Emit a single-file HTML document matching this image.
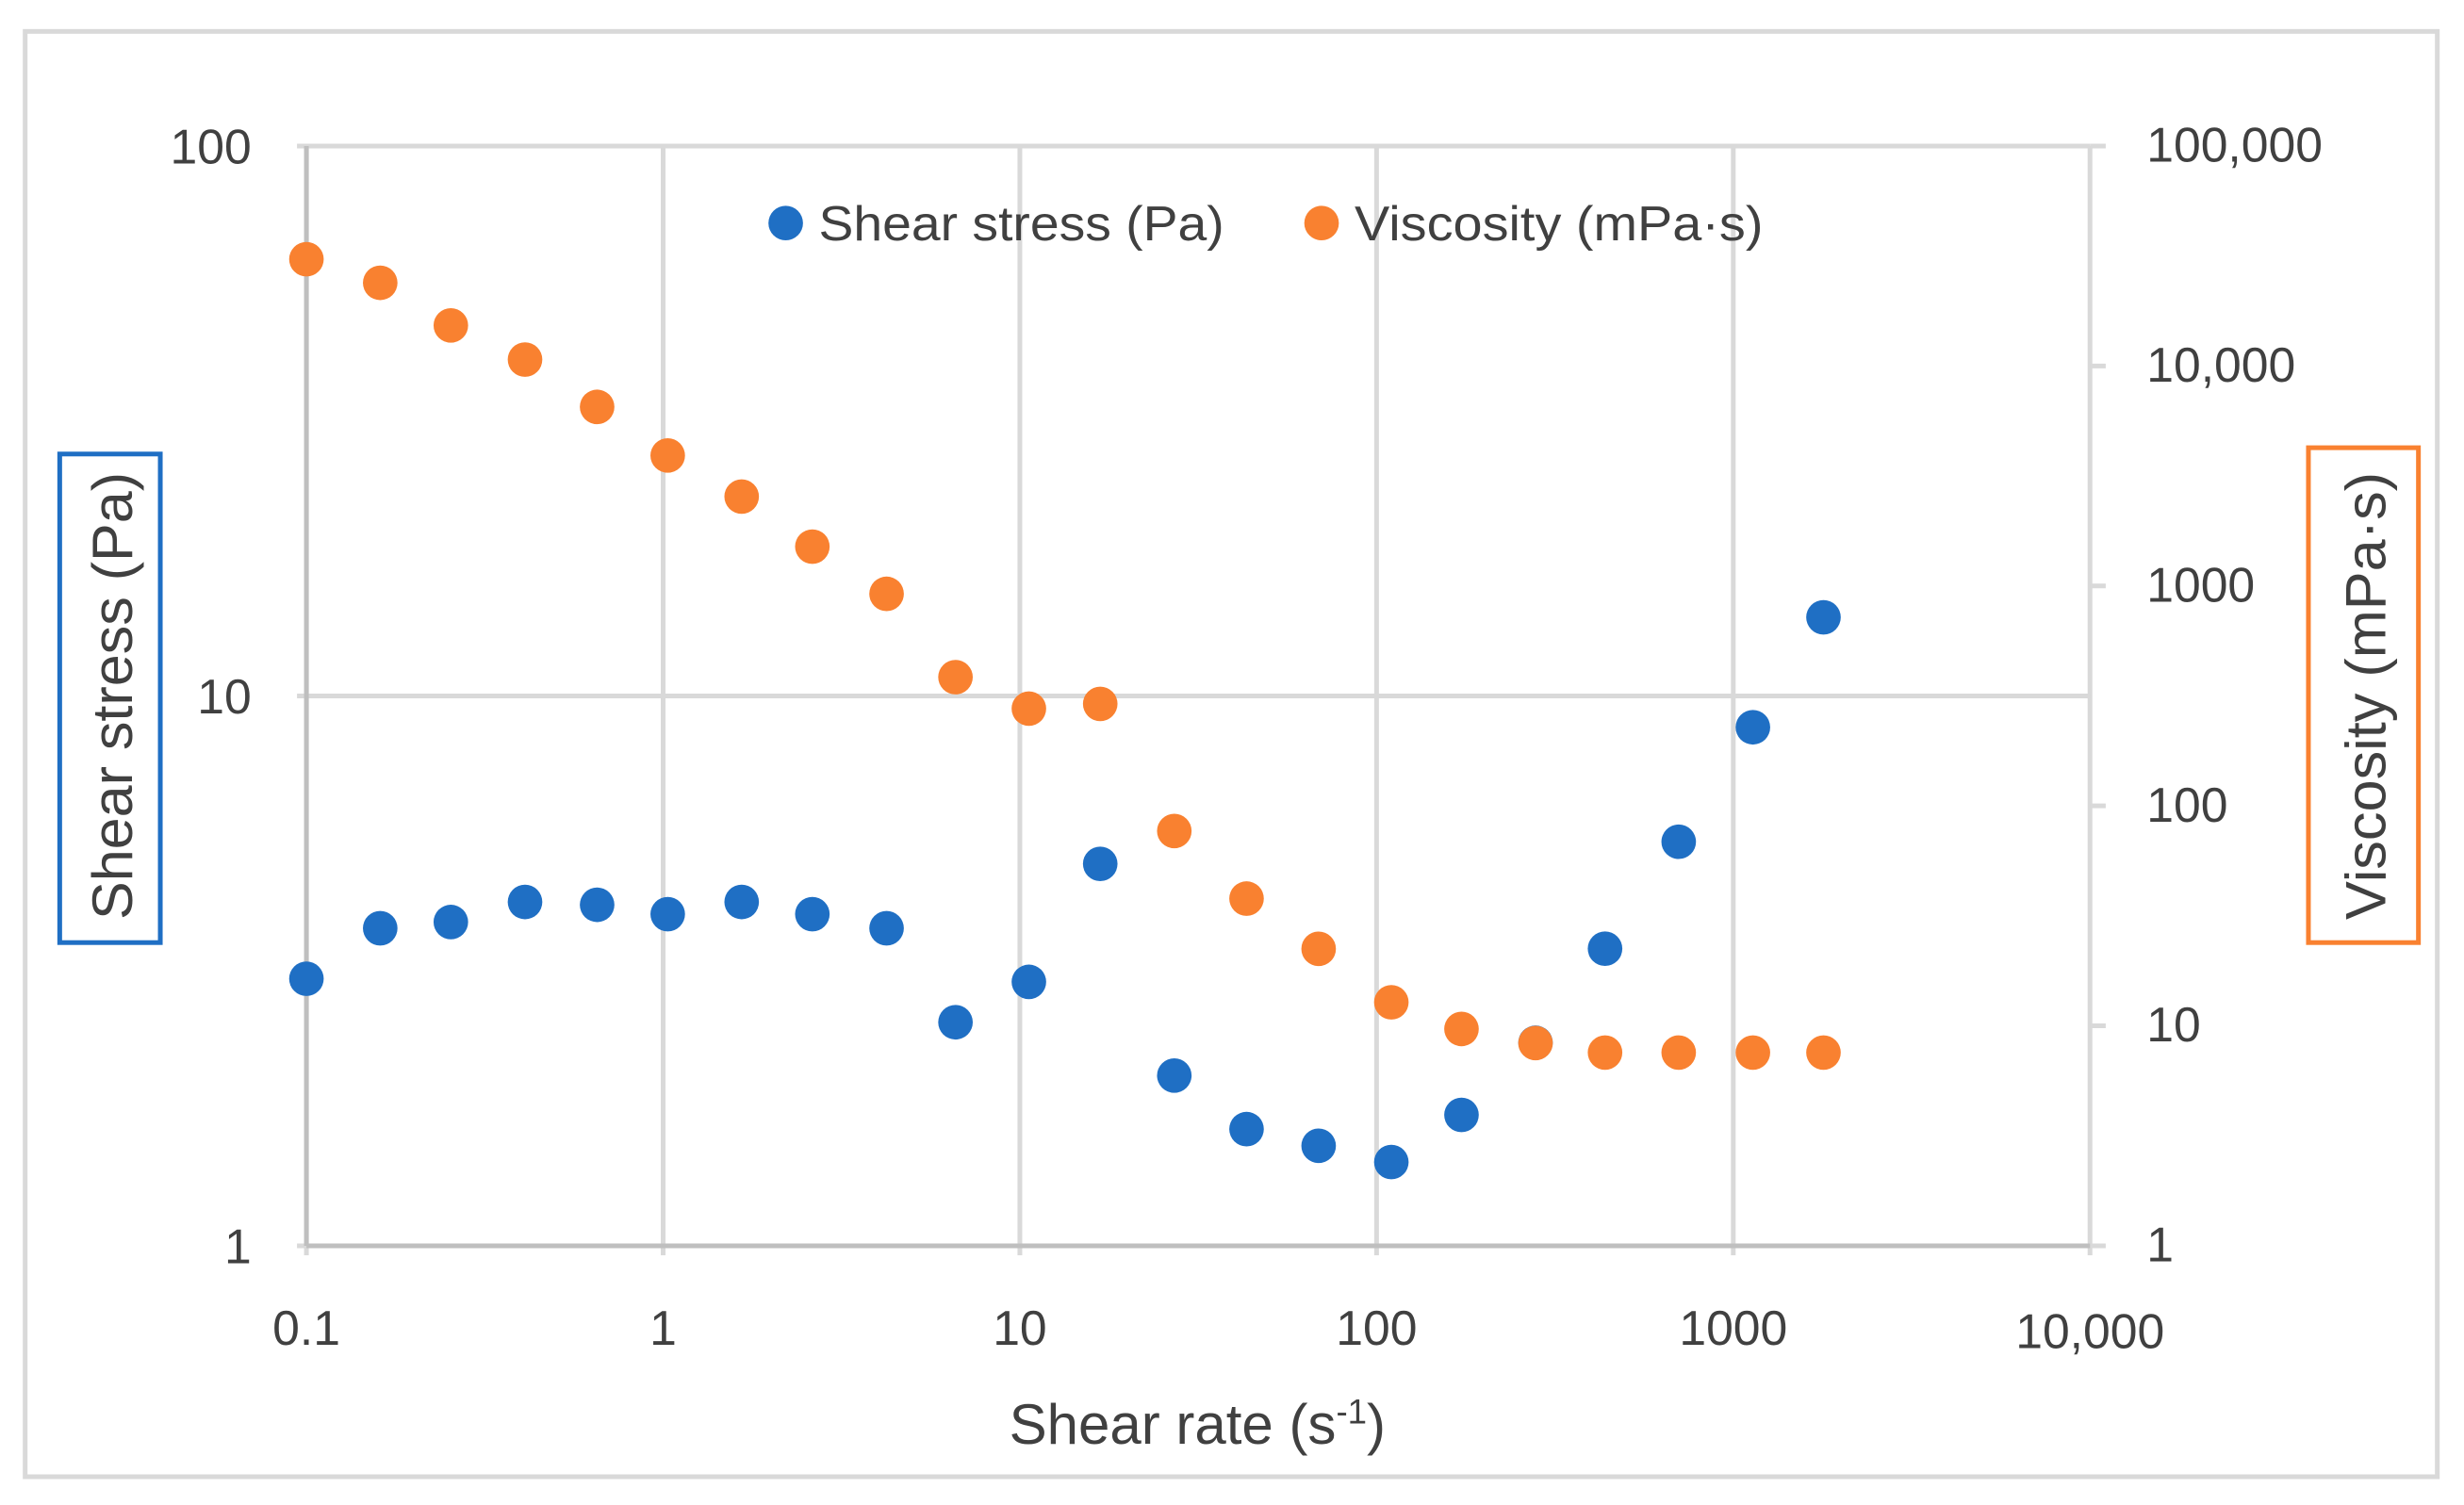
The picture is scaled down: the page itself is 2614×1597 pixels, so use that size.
<!DOCTYPE html>
<html><head><meta charset="utf-8"><style>
html,body{margin:0;padding:0;background:#fff;}
svg{display:block;font-family:"Liberation Sans",sans-serif;}
</style></head><body>
<svg id="chart" width="2614" height="1597" viewBox="0 0 1568 958" preserveAspectRatio="none" xmlns="http://www.w3.org/2000/svg">
<rect x="16" y="20" width="1535" height="920" fill="#fff" stroke="#d9d9d9" stroke-width="3"/>
<g id="grid"></g>
<g id="ticks"></g>
<g id="marks"></g>
<g>
<circle cx="500" cy="142" r="11" fill="#1f6fc4"/>
<text x="521" y="153" font-size="31" textLength="258" lengthAdjust="spacingAndGlyphs" fill="#404040">Shear stress (Pa)</text>
<circle cx="841" cy="142" r="11" fill="#f98130"/>
<text x="862" y="153" font-size="31" textLength="260" lengthAdjust="spacingAndGlyphs" fill="#404040">Viscosity (mPa·s)</text>
</g>
<rect x="38" y="289" width="64" height="311" fill="none" stroke="#1f6fc4" stroke-width="3"/>
<text transform="translate(84,443) rotate(-90)" text-anchor="middle" font-size="36" textLength="285" lengthAdjust="spacingAndGlyphs" fill="#404040">Shear stress (Pa)</text>
<rect x="1469" y="285" width="70" height="315" fill="none" stroke="#f98130" stroke-width="3"/>
<text transform="translate(1518,443) rotate(-90)" text-anchor="middle" font-size="36" textLength="285" lengthAdjust="spacingAndGlyphs" fill="#404040">Viscosity (mPa·s)</text>
<text x="762" y="919" text-anchor="middle" font-size="36" fill="#404040">Shear rate (s<tspan font-size="22" dy="-13">-1</tspan><tspan dy="13">)</tspan></text>
</svg>
<script>
const shearRate=[0.1,0.161,0.254,0.41,0.653,1.03,1.66,2.62,4.23,6.6,10.6,16.8,27.1,43.2,68.8,110,173,279,437,703,1135,1790];
const shearStress=[3.06,3.78,3.88,4.22,4.17,4.01,4.22,4.01,3.78,2.55,3.02,4.95,2.04,1.63,1.52,1.42,1.73,2.34,3.47,5.43,8.77,13.9];
const viscosity=[30600,23900,15300,10700,6520,3920,2550,1510,921,385,277,291,76.9,37.9,22.4,12.8,9.68,8.35,7.56,7.56,7.56,7.56];
const xTicks=["0.1","1","10","100","1000","10,000"];
const yTicks=["1","10","100"];
const y2Ticks=["1","10","100","1000","10,000","100,000"];
const L=195,R=1330,T=93,B=793;
const xs=v=>L+(Math.log10(v)+1)/5*(R-L);
const ys=v=>B-Math.log10(v)/2*(B-T);
const ys2=v=>B-Math.log10(v)/5*(B-T);
const NS="http://www.w3.org/2000/svg";
function mk(tag,attrs,parent,txt){const e=document.createElementNS(NS,tag);for(const k in attrs)e.setAttribute(k,attrs[k]);if(txt!==undefined)e.textContent=txt;document.getElementById(parent).appendChild(e);return e;}
xTicks.forEach((t,i)=>{const x=L+i*(R-L)/5;
 const g=mk('line',{x1:x,x2:x,y1:T,y2:B+6,stroke:'#d9d9d9','stroke-width':3},'grid');
 
 
 const tx=mk('text',{x:x,y:i==5?858:856,'text-anchor':'middle','font-size':31,fill:'#404040'},'ticks',t);
 
 
});
yTicks.forEach((t,i)=>{const y=B-i*(B-T)/2;
 const g=mk('line',{x1:L-6,x2:R,y1:y,y2:y,stroke:'#d9d9d9','stroke-width':3},'grid');
 
 
 const tx=mk('text',{x:160,y:y+11,'text-anchor':'end','font-size':31,fill:'#404040'},'ticks',t);
 
 
});
y2Ticks.forEach((t,i)=>{const y=B-i*(B-T)/5;
 const g=mk('line',{x1:R,x2:R+10,y1:y,y2:y,stroke:'#d9d9d9','stroke-width':3},'grid');
 
 
 const tx=mk('text',{x:1366,y:y+10,'font-size':31,fill:'#404040'},'ticks',t);
 
 
});
const ax=mk('line',{x1:L,x2:L,y1:T,y2:B,stroke:'#bfbfbf','stroke-width':3},'grid');


const bx=mk('line',{x1:L,x2:R,y1:B,y2:B,stroke:'#bfbfbf','stroke-width':3},'grid');


shearRate.forEach((r,i)=>{
 const c=mk('circle',{cx:xs(r),cy:ys(shearStress[i]),r:11,fill:'#1f6fc4'},'marks');
 
 
});
shearRate.forEach((r,i)=>{
 const c=mk('circle',{cx:xs(r),cy:ys2(viscosity[i]),r:11,fill:'#f98130'},'marks');
 
 
});
</script>
</body></html>
